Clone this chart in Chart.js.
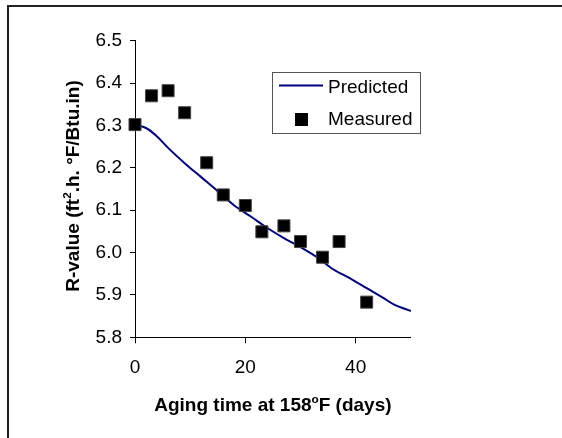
<!DOCTYPE html>
<html>
<head>
<meta charset="utf-8">
<script src="https://cdn.jsdelivr.net/npm/chart.js@4.4.1/dist/chart.umd.min.js"></script>
<style>
	html, body { margin: 0; padding: 0; background: #fff; }
	#grafR { display: block; }
</style>
</head>
<body>
<canvas id="grafR" width="562" height="438"></canvas>
<script>
/*======== DATOS =============*/
const diasMedidos = [0, 3, 6, 9, 13, 16, 20, 23, 27, 30, 34, 37, 42];
const rMedido = [6.302, 6.370, 6.382, 6.330, 6.212, 6.136, 6.111, 6.049, 6.063, 6.026, 5.989, 6.026, 5.883];

const diasPredichos = [0, 2, 4, 6, 9, 12, 15, 18, 21, 24, 27, 30, 33, 36, 39, 42, 45, 47, 50];
const rPredicho = [6.300, 6.294, 6.274, 6.247, 6.211, 6.178, 6.145, 6.111, 6.085, 6.058, 6.034, 6.013, 5.989, 5.960, 5.939, 5.916, 5.893, 5.877, 5.862];

const xTicks = [0, 20, 40];
const yTicks = [5.8, 5.9, 6.0, 6.1, 6.2, 6.3, 6.4, 6.5];

const fuente = '"Liberation Sans", Arial, sans-serif';

/*======== TEXTO CON SUPERINDICE =============*/
function textoPartes(ctx, partes, size){
	let total = 0;
	partes.forEach(p => {
		ctx.font = 'bold ' + (p.sup ? size * 0.62 : size) + 'px ' + fuente;
		p.w = ctx.measureText(p.t).width;
		total += p.w;
	});
	return total;
}

function dibujarTitulo(ctx, partes, cx, baseY, rot, size){
	ctx.save();
	ctx.translate(cx, baseY);
	ctx.rotate(rot);
	let total = textoPartes(ctx, partes, size);
	let x = -total / 2;
	ctx.fillStyle = '#000';
	ctx.textBaseline = 'alphabetic';
	ctx.textAlign = 'left';
	partes.forEach(p => {
		ctx.font = 'bold ' + (p.sup ? size * 0.62 : size) + 'px ' + fuente;
		ctx.fillText(p.t, x, p.sup ? -size * 0.42 : 0);
		x += p.w;
	});
	ctx.restore();
}

const decoracion = {
	id: 'decoracion',
	beforeDraw(chart){
		const ctx = chart.ctx;
		ctx.save();
		ctx.fillStyle = '#fff';
		ctx.fillRect(0, 0, chart.width, chart.height);
		// marco
		ctx.strokeStyle = '#222';
		ctx.lineWidth = 2;
		ctx.beginPath();
		ctx.moveTo(8, chart.height);
		ctx.lineTo(8, 6);
		ctx.lineTo(chart.width, 6);
		ctx.stroke();
		ctx.restore();
	},
	afterDraw(chart){
		const ctx = chart.ctx;
		const area = chart.chartArea;
		const cx = (area.left + area.right) / 2;
		const cy = (area.top + area.bottom) / 2;

		dibujarTitulo(ctx, [
			{t: 'Aging time at 158'}, {t: 'o', sup: true}, {t: 'F (days)'}
		], cx, 411, 0, 19);

		dibujarTitulo(ctx, [
			{t: 'R-value (ft'}, {t: '2', sup: true}, {t: '.h. °F/Btu.in)'}
		], 79, cy - 3, -Math.PI / 2, 19);

		// leyenda
		const dsPred = chart.data.datasets[0];
		const dsMed = chart.data.datasets[1];
		ctx.save();
		ctx.fillStyle = '#fff';
		ctx.fillRect(272.5, 72.5, 148, 61);
		ctx.strokeStyle = '#555';
		ctx.lineWidth = 1;
		ctx.strokeRect(272.5, 72.5, 148, 61);

		ctx.strokeStyle = dsPred.borderColor;
		ctx.lineWidth = dsPred.borderWidth;
		ctx.beginPath();
		ctx.moveTo(279, 85.5);
		ctx.lineTo(323, 85.5);
		ctx.stroke();

		ctx.fillStyle = dsMed.backgroundColor;
		ctx.fillRect(295, 113, 13, 13);

		ctx.fillStyle = '#000';
		ctx.font = '19px ' + fuente;
		ctx.textBaseline = 'middle';
		ctx.textAlign = 'left';
		ctx.fillText(dsPred.label, 328, 88);
		ctx.fillText(dsMed.label, 328, 120);
		ctx.restore();
	}
};

/*======== GRAFICA =============*/
const grafR = document.getElementById('grafR').getContext('2d');
new Chart(grafR, {
	type: 'scatter',
	data: {
		datasets: [{
			label: 'Predicted',
			type: 'line',
			data: diasPredichos.map((d, i) => ({x: d, y: rPredicho[i]})),
			borderColor: '#000080',
			borderWidth: 2,
			pointRadius: 0,
			fill: false,
			cubicInterpolationMode: 'monotone',
			clip: false,
			order: 1
		}, {
			label: 'Measured',
			data: diasMedidos.map((d, i) => ({x: d, y: rMedido[i]})),
			pointStyle: 'rect',
			pointRadius: 8.5,
			backgroundColor: '#000',
			borderColor: '#444',
			borderWidth: 1,
			clip: false,
			order: 0
		}]
	},
	options: {
		responsive: false,
		animation: false,
		devicePixelRatio: 1,
		layout: { padding: { top: 40.7, right: 151.2, bottom: 0, left: 0 } },
		plugins: {
			legend: { display: false },
			tooltip: { enabled: false }
		},
		scales: {
			x: {
				type: 'linear',
				min: 0,
				max: 50,
				afterBuildTicks: s => { s.ticks = xTicks.map(v => ({value: v})); },
				afterFit: s => { s.height = 100.7; },
				grid: { drawOnChartArea: false, drawTicks: true, tickLength: 6, color: '#000' },
				border: { color: '#000', width: 1 },
				ticks: { color: '#000', padding: 13, maxRotation: 0, font: { family: fuente, size: 19 } }
			},
			y: {
				min: 5.8,
				max: 6.5,
				afterBuildTicks: s => { s.ticks = yTicks.map(v => ({value: v})); },
				afterFit: s => { s.width = 135; },
				grid: { drawOnChartArea: false, drawTicks: true, tickLength: 5, color: '#000' },
				border: { color: '#000', width: 1 },
				ticks: {
					color: '#000', padding: 8,
					font: { family: fuente, size: 19 },
					callback: v => v.toFixed(1)
				}
			}
		}
	},
	plugins: [decoracion]
});
</script>
</body>
</html>
